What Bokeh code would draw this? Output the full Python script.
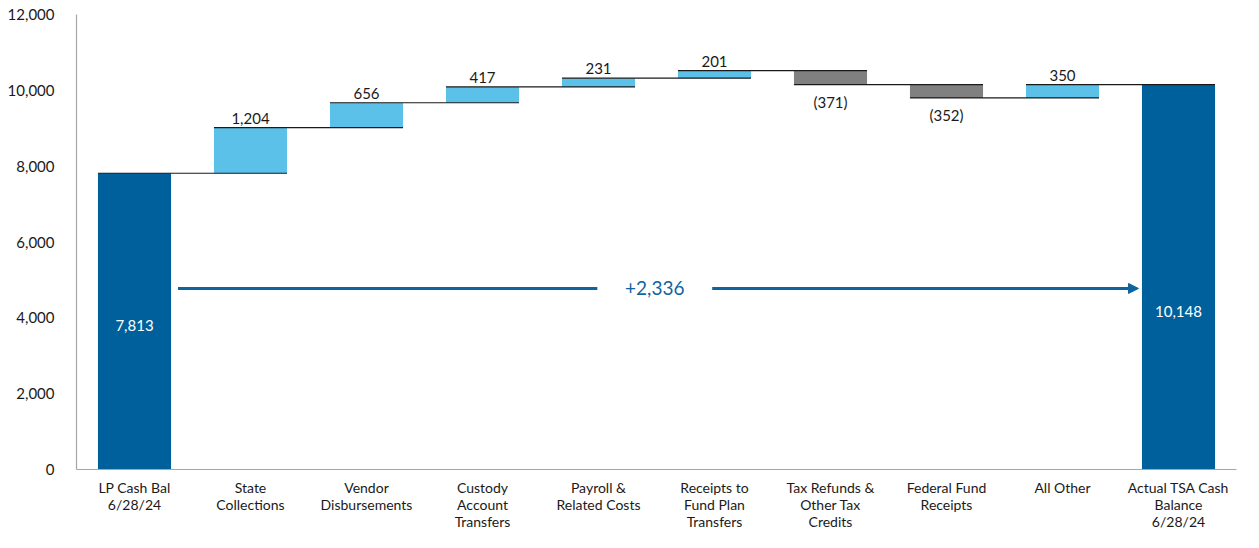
from bokeh.plotting import figure
from bokeh.models import ColumnDataSource, Range1d, FixedTicker, Arrow, NormalHead, Label
from bokeh.embed import file_html
from bokeh.resources import INLINE
from bokeh.core.properties import value

categories = ["LP Cash Bal\n6/28/24", "State\nCollections", "Vendor\nDisbursements",
              "Custody\nAccount\nTransfers", "Payroll &\nRelated Costs",
              "Receipts to\nFund Plan\nTransfers", "Tax Refunds &\nOther Tax\nCredits",
              "Federal Fund\nReceipts", "All Other", "Actual TSA Cash\nBalance\n6/28/24"]
values = [7813, 1204, 656, 417, 231, 201, -371, -352, 350, 10148]
kinds = ["total", "step", "step", "step", "step", "step", "step", "step", "step", "total"]
net_change_label = "+2,336"
y_ticks = [0, 2000, 4000, 6000, 8000, 10000, 12000]

FONT = "Lato"
C_TOTAL = "#00609C"
C_UP = "#5BC1E8"
C_DOWN = "#808080"
W = 0.63

xs = list(range(1, len(values) + 1))
bottoms, tops, colors, ends = [], [], [], []
run = 0
for v, k in zip(values, kinds):
    if k == "total":
        bottoms.append(0); tops.append(v); colors.append(C_TOTAL); run = v
    else:
        b, t = run, run + v
        bottoms.append(min(b, t)); tops.append(max(b, t))
        colors.append(C_UP if v >= 0 else C_DOWN)
        run = t
    ends.append(run)

p = figure(width=1243, height=532, output_backend="svg", toolbar_location=None,
           x_range=Range1d(0.5, 10.5), y_range=Range1d(0, 12000))
p.min_border_left = 76
p.min_border_right = 7
p.min_border_top = 14
p.min_border_bottom = 63
p.outline_line_color = None
p.grid.visible = False
p.background_fill_color = "white"
p.border_fill_color = "white"

src = ColumnDataSource(dict(x=xs, bottom=bottoms, top=tops, color=colors))
p.vbar(x="x", bottom="bottom", top="top", width=W, fill_color="color", line_color=None, source=src)

# connectors
cx0, cx1, cy = [], [], []
for i in range(len(values) - 1):
    cx0.append(xs[i] - W / 2); cx1.append(xs[i + 1] + W / 2); cy.append(ends[i])
p.segment(x0=cx0, y0=cy, x1=cx1, y1=cy, line_color="#1a1a1a", line_width=1.2)

# step labels
up_x, up_y, up_t, dn_x, dn_y, dn_t = [], [], [], [], [], []
for i, (v, k) in enumerate(zip(values, kinds)):
    if k == "total":
        continue
    if v >= 0:
        up_x.append(xs[i]); up_y.append(tops[i]); up_t.append(f"{v:,}")
    else:
        dn_x.append(xs[i]); dn_y.append(bottoms[i]); dn_t.append(f"({-v:,})")
p.text(x=up_x, y=up_y, text=up_t, text_align="center", text_baseline="bottom", y_offset=-4,
       text_font=value(FONT), text_font_size="15px", text_color="#1a1a1a")
p.text(x=dn_x, y=dn_y, text=dn_t, text_align="center", text_baseline="top", y_offset=8,
       text_font=value(FONT), text_font_size="15px", text_color="#1a1a1a")

# total labels inside bars
tot_y = [3800, 4170]
ti = [i for i, k in enumerate(kinds) if k == "total"]
p.text(x=[xs[i] for i in ti], y=tot_y, text=[f"{values[i]:,}" for i in ti],
       text_align="center", text_baseline="middle",
       text_font=value(FONT), text_font_size="15px", text_color="white")

# net change arrow
ay = 4775
ARROW_C = "#0F64A0"
p.segment(x0=[xs[0] + W / 2 + 0.06], y0=[ay], x1=[4.99], y1=[ay], line_color=ARROW_C, line_width=3)
p.add_layout(Arrow(x_start=5.98, y_start=ay, x_end=xs[-1] - W / 2 - 0.03, y_end=ay,
                   line_color=ARROW_C, line_width=3,
                   end=NormalHead(size=10, fill_color=ARROW_C, line_color=ARROW_C)))
p.add_layout(Label(x=5.485, y=ay, text=net_change_label, text_align="center", text_baseline="middle",
                   text_font=FONT, text_font_size="19px", text_color=ARROW_C))

# axes
p.yaxis.ticker = FixedTicker(ticks=y_ticks)
p.yaxis.formatter.use_scientific = False
p.yaxis.major_label_overrides = {t: f"{t:,}" for t in y_ticks}
p.xaxis.ticker = FixedTicker(ticks=xs)
p.xaxis.major_label_overrides = {x: c for x, c in zip(xs, categories)}
for ax in (p.xaxis[0], p.yaxis[0]):
    ax.axis_line_color = "#A6A6A6"
    ax.axis_line_width = 1.2
    ax.major_tick_line_color = None
    ax.minor_tick_line_color = None
    ax.major_label_text_font = FONT
    ax.major_label_text_font_size = "15px"
    ax.major_label_text_color = "#1a1a1a"
p.xaxis.major_label_text_font_size = "14px"
p.yaxis.major_label_standoff = 16
p.xaxis.major_label_standoff = 3
p.xaxis.major_label_text_line_height = 1.0

open("out.html", "w").write(file_html(p, INLINE))
